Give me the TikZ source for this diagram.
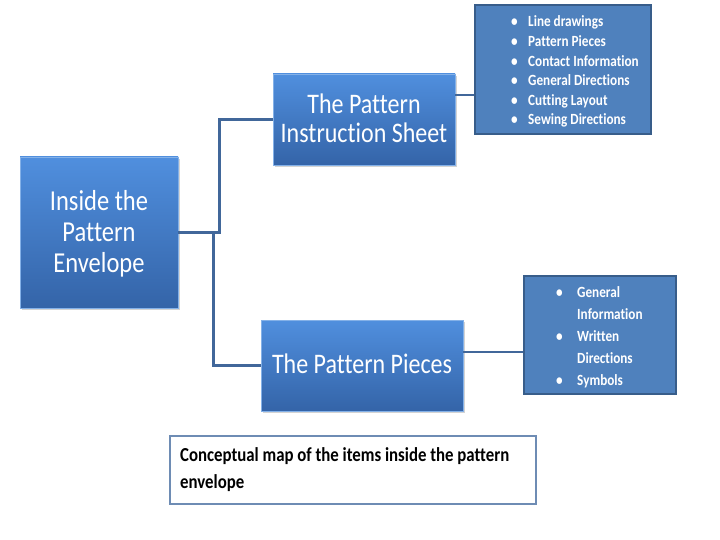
\documentclass[tikz,border=0pt]{standalone}
\usepackage{fontspec}
\setmainfont{Carlito}[Ligatures=NoCommon]
\usetikzlibrary{shadows}
\definecolor{linkblue}{RGB}{65,103,154}
\definecolor{listfill}{RGB}{79,129,189}
\definecolor{listedge}{RGB}{56,93,138}
\definecolor{boxtop}{RGB}{80,143,222}
\definecolor{boxbot}{RGB}{52,100,168}
\definecolor{capedge}{RGB}{110,140,180}
\tikzset{mainbox/.style={rectangle, top color=boxtop, bottom color=boxbot, draw=boxtop!70!white, line width=0.8pt,
    text=white, align=center, inner sep=0pt, drop shadow={shadow xshift=2pt, shadow yshift=-2pt, opacity=0.35}},
  listbox/.style={rectangle, fill=listfill, draw=listedge, line width=2pt, inner sep=0pt},
  listtext/.style={anchor=west, text=white, inner sep=0pt},
  link/.style={draw=linkblue, line width=2.5pt}}
% taller text, as in the picture
\newcommand{\tall}[3][0pt]{\raisebox{-#1}[\height][\depth]{\scalebox{1}[1.18]{\begin{tabular}{@{}#2@{}}#3\end{tabular}}}}
\newcommand{\bul}[1]{\makebox[#1][l]{\textbullet}}
\begin{document}
\begin{tikzpicture}[x=1pt,y=-1pt]
\useasboundingbox (0,0) rectangle (720,540);
% the three blue boxes
\node[mainbox, minimum width=158pt, minimum height=151pt, font=\fontsize{24.5}{26.3}\selectfont] (envelope) at (99,232.5)
  {\tall[3pt]{c}{Inside the\\Pattern\\Envelope}};
\node[mainbox, minimum width=182pt, minimum height=91pt, font=\fontsize{24}{25.4}\selectfont] (sheet) at (364,119.5)
  {\tall[2.5pt]{c}{The Pattern\\Instruction Sheet}};
\node[mainbox, minimum width=202pt, minimum height=91pt, font=\fontsize{24}{25.4}\selectfont] (pieces) at (362,365.5)
  {\tall[2pt]{c}{The Pattern Pieces}};
% the lists
\node[listbox, minimum width=176pt, minimum height=129pt] (sheetlist) at (563,69.5) {};
\node[listtext, font=\bfseries\fontsize{13.2}{16.6}\selectfont] (sheetitems) at (511,72)
  {\tall{l}{\bul{17pt}Line drawings\\\bul{17pt}Pattern Pieces\\\bul{17pt}Contact Information\\\bul{17pt}General Directions\\\bul{17pt}Cutting Layout\\\bul{17pt}Sewing Directions}};
\node[listbox, minimum width=152pt, minimum height=118pt] (pieceslist) at (600,335) {};
\node[listtext, font=\bfseries\fontsize{13.2}{18.6}\selectfont] (piecesitems) at (556,337)
  {\tall{l}{\bul{21pt}General\\\hspace*{21pt}Information\\\bul{21pt}Written\\\hspace*{21pt}Directions\\\bul{21pt}Symbols}};
% caption
\node[draw=capedge, line width=2pt, minimum width=366pt, minimum height=68pt, inner sep=0pt] (caption) at (353,470) {};
\node[anchor=west, inner sep=0pt, font=\bfseries\fontsize{16.8}{22.9}\selectfont] (captext) at (180,470)
  {\tall{l}{Conceptual map of the items inside the pattern\\envelope}};
% connectors
\coordinate (uptop) at (219.5,232.5);
\coordinate (downbot) at (213.5,232.5);
\draw[link] (envelope.east) -- (uptop) |- (sheet.west);
\draw[link] (downbot) |- (pieces.west);
\draw[link] ([yshift=24.5pt]sheet.east) -- ([yshift=24.5pt]sheet.east -| sheetlist.west);
\draw[link] ([yshift=13.5pt]pieces.east) -- ([yshift=13.5pt]pieces.east -| pieceslist.west);
\end{tikzpicture}
\end{document}
